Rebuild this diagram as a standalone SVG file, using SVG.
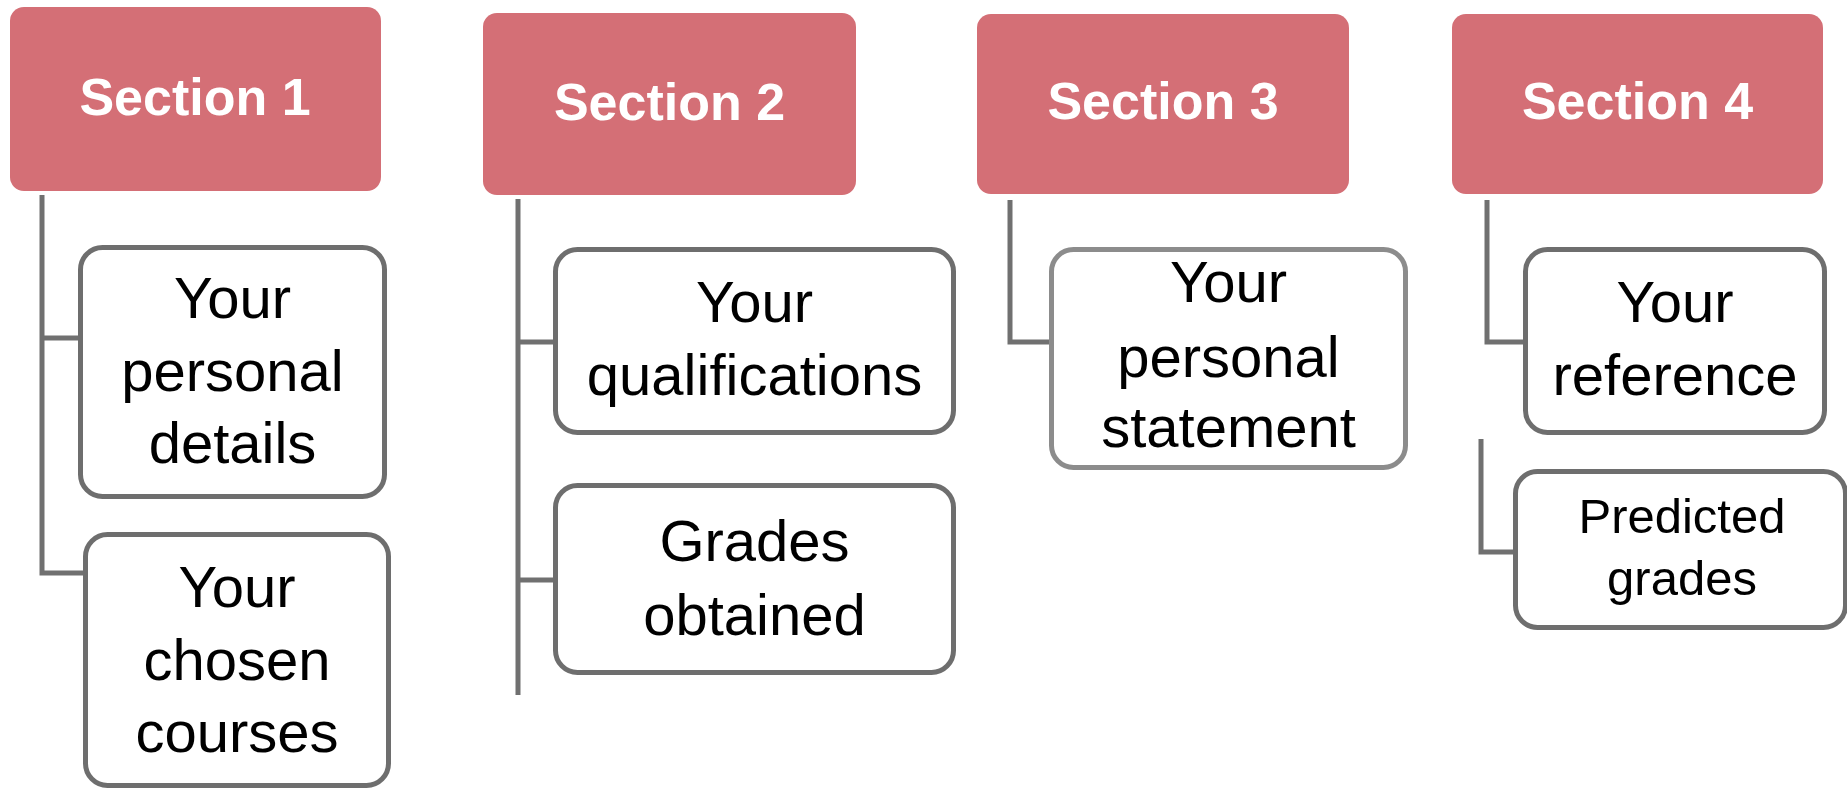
<svg xmlns="http://www.w3.org/2000/svg" width="1847" height="792" viewBox="0 0 1847 792">
<style>
.hdr{fill:#d46f76;}
.hdrt{font-family:"Liberation Sans",Arial,sans-serif;font-weight:bold;font-size:52px;fill:#ffffff;text-anchor:middle;}
.box{fill:#ffffff;stroke:#6e6e6e;stroke-width:5;}
.box2{fill:#ffffff;stroke:#8c8c8c;stroke-width:5;}
.t{font-family:"Liberation Sans",Arial,sans-serif;font-size:58px;fill:#000000;text-anchor:middle;}
.ts{font-family:"Liberation Sans",Arial,sans-serif;font-size:49px;fill:#000000;text-anchor:middle;}
.con{fill:none;stroke:#707070;stroke-width:5;}
</style>
<rect width="1847" height="792" fill="#ffffff"/>
<g id="connectors">
<path class="con" d="M42,195 V573 H84"/>
<path class="con" d="M42,338 H79"/>
<path class="con" d="M518,199 V695"/>
<path class="con" d="M518,342 H554"/>
<path class="con" d="M518,580 H554"/>
<path class="con" d="M1010,200 V342 H1050"/>
<path class="con" d="M1487,200 V342 H1524"/>
<path class="con" d="M1481,439 V552 H1514"/>
</g>
<g id="section1">
<rect class="hdr" x="10" y="7" width="371" height="184" rx="14"/>
<text class="hdrt" x="195" y="115">Section 1</text>
</g>
<g id="personal-details">
<rect class="box" x="80.5" y="247.5" width="304" height="249" rx="22"/>
<text class="t" x="232.5" y="318">Your</text>
<text class="t" x="232.5" y="390.5">personal</text>
<text class="t" x="232.5" y="463">details</text>
</g>
<g id="chosen-courses">
<rect class="box" x="85.5" y="534.5" width="303" height="251" rx="22"/>
<text class="t" x="237" y="607">Your</text>
<text class="t" x="237" y="680">chosen</text>
<text class="t" x="237" y="752">courses</text>
</g>
<g id="section2">
<rect class="hdr" x="483" y="13" width="373" height="182" rx="14"/>
<text class="hdrt" x="669.5" y="120">Section 2</text>
</g>
<g id="qualifications">
<rect class="box" x="555.5" y="249.5" width="398" height="183" rx="22"/>
<text class="t" x="754.5" y="322">Your</text>
<text class="t" x="754.5" y="395">qualifications</text>
</g>
<g id="grades-obtained">
<rect class="box" x="555.5" y="485.5" width="398" height="187" rx="22"/>
<text class="t" x="754.5" y="561">Grades</text>
<text class="t" x="754.5" y="635">obtained</text>
</g>
<g id="section3">
<rect class="hdr" x="977" y="14" width="372" height="180" rx="14"/>
<text class="hdrt" x="1163" y="119">Section 3</text>
</g>
<g id="personal-statement">
<rect class="box2" x="1051.5" y="249.5" width="354" height="218" rx="22"/>
<text class="t" x="1228.5" y="302">Your</text>
<text class="t" x="1228.5" y="377">personal</text>
<text class="t" x="1228.5" y="447">statement</text>
</g>
<g id="section4">
<rect class="hdr" x="1452" y="14" width="371" height="180" rx="14"/>
<text class="hdrt" x="1637.5" y="119">Section 4</text>
</g>
<g id="reference">
<rect class="box" x="1525.5" y="249.5" width="299" height="183" rx="22"/>
<text class="t" x="1675" y="322">Your</text>
<text class="t" x="1675" y="395">reference</text>
</g>
<g id="predicted-grades">
<rect class="box" x="1515.5" y="471.5" width="330" height="156" rx="22"/>
<text class="ts" x="1682" y="533">Predicted</text>
<text class="ts" x="1682" y="595">grades</text>
</g>
</svg>
